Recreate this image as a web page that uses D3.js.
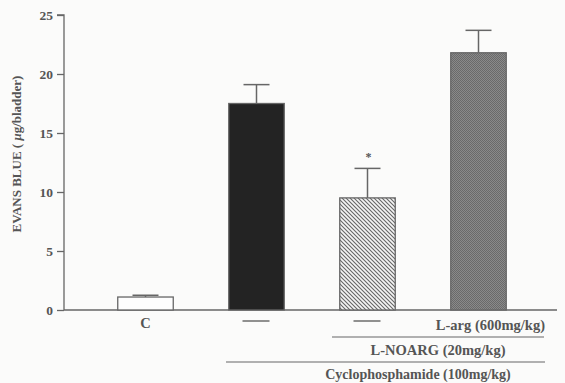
<!DOCTYPE html>
<html>
<head>
<meta charset="utf-8">
<script src="https://cdn.jsdelivr.net/npm/d3@7"></script>
<style>
  body { margin: 0; background: #fbfbfa; }
  svg { display: block; }
  text { font-family: "Liberation Serif", "DejaVu Serif", serif; font-weight: bold; fill: #555; }
</style>
</head>
<body>
<div id="viz"></div>
<script>
var groups = ["C", "CYP", "CYP+NOARG", "CYP+NOARG+ARG"],
    means = [1.1, 17.5, 9.5, 21.8],
    errs = [0.15, 1.6, 2.5, 1.9],
    yTicks = [0, 5, 10, 15, 20, 25],
    signif = [false, false, true, false];

var W = 565, H = 383,
    ink = "#666";

var svg = d3.select("#viz").append("svg")
    .attr("width", W)
    .attr("height", H);

var defs = svg.append("defs");

// diagonal hatch for the L-NOARG bar
var hatch = defs.append("pattern")
    .attr("id", "hatch")
    .attr("patternUnits", "userSpaceOnUse")
    .attr("width", 4).attr("height", 4);
hatch.append("rect").attr("width", 4).attr("height", 4).attr("fill", "#f4f4f4");
hatch.append("path")
    .attr("d", "M-1,-1 L5,5 M-1,3 L1,5 M3,-1 L5,1")
    .attr("stroke", "#666").attr("stroke-width", 1.1);

// fine dotted grey for the L-arg bar
var dots = defs.append("pattern")
    .attr("id", "dots")
    .attr("patternUnits", "userSpaceOnUse")
    .attr("width", 2).attr("height", 2);
dots.append("rect").attr("width", 2).attr("height", 2).attr("fill", "#8a8a8a");
dots.append("rect").attr("width", 1).attr("height", 1).attr("fill", "#6a6a6a");
dots.append("rect").attr("x", 1).attr("y", 1).attr("width", 1).attr("height", 1).attr("fill", "#6a6a6a");

var fills = ["#fdfdfd", "#232323", "url(#hatch)", "url(#dots)"];

var x = d3.scaleBand()
    .domain(groups)
    .range([90, 534])
    .paddingInner(0.5)
    .paddingOuter(0.25);

var y = d3.scaleLinear()
    .domain([0, 25])
    .range([310, 15]);

// y axis
var yAxis = svg.append("g")
    .attr("transform", "translate(64,0)")
    .call(d3.axisLeft(y).tickValues(yTicks).tickSize(7).tickPadding(4));
yAxis.select(".domain").attr("stroke", ink).attr("stroke-width", 1.3).attr("d", "M-7,15H0V310");
yAxis.selectAll(".tick line").attr("stroke", ink).attr("stroke-width", 1.3);
yAxis.selectAll(".tick text")
    .style("font-family", "Liberation Serif, serif")
    .style("font-weight", "bold")
    .style("font-size", "13.5px")
    .attr("fill", "#555");

// baseline
svg.append("line")
    .attr("x1", 64).attr("x2", 557)
    .attr("y1", y(0)).attr("y2", y(0))
    .attr("stroke", ink).attr("stroke-width", 1.3);

// y title
svg.append("text")
    .attr("transform", "translate(21," + 154 + ") rotate(-90)")
    .attr("text-anchor", "middle")
    .style("font-size", "13px")
    .call(function(t) {
        t.append("tspan").text("EVANS BLUE  (  ");
        t.append("tspan").style("font-style", "italic").text("μ");
        t.append("tspan").text("g/bladder)");
    });

// bars
svg.selectAll("rect.bar")
    .data(groups)
    .enter().append("rect")
    .attr("class", "bar")
    .attr("x", function(d) { return x(d); })
    .attr("width", x.bandwidth())
    .attr("y", function(d, i) { return y(means[i]); })
    .attr("height", function(d, i) { return y(0) - y(means[i]); })
    .attr("fill", function(d, i) { return fills[i]; })
    .attr("stroke", ink)
    .attr("stroke-width", 1.3);

// error bars
var eb = svg.selectAll("g.err")
    .data(groups)
    .enter().append("g")
    .attr("class", "err")
    .attr("stroke", ink)
    .attr("stroke-width", 1.5);
eb.append("line")
    .attr("x1", function(d) { return x(d) + x.bandwidth() / 2; })
    .attr("x2", function(d) { return x(d) + x.bandwidth() / 2; })
    .attr("y1", function(d, i) { return y(means[i]); })
    .attr("y2", function(d, i) { return y(means[i] + errs[i]); });
eb.append("line")
    .attr("x1", function(d) { return x(d) + x.bandwidth() / 2 - 13; })
    .attr("x2", function(d) { return x(d) + x.bandwidth() / 2 + 13; })
    .attr("y1", function(d, i) { return y(means[i] + errs[i]); })
    .attr("y2", function(d, i) { return y(means[i] + errs[i]); });

// asterisk
svg.selectAll("text.star")
    .data(groups.filter(function(d, i) { return signif[i]; }))
    .enter().append("text")
    .attr("class", "star")
    .attr("x", function(d) { return x(d) + x.bandwidth() / 2 + 1; })
    .attr("y", function(d) { var i = groups.indexOf(d); return y(means[i] + errs[i]) - 7; })
    .attr("text-anchor", "middle")
    .style("font-size", "12px")
    .text("*");

// treatment labels under the axis
var cx = function(i) { return x(groups[i]) + x.bandwidth() / 2; };

svg.append("text")
    .attr("x", cx(0)).attr("y", 328)
    .attr("text-anchor", "middle")
    .style("font-size", "14.5px")
    .text("C");

[1, 2].forEach(function(i) {
    svg.append("line")
        .attr("x1", cx(i) - 14).attr("x2", cx(i) + 13)
        .attr("y1", 321).attr("y2", 321)
        .attr("stroke", "#555").attr("stroke-width", 1.3);
});

svg.append("text")
    .attr("x", 545).attr("y", 330)
    .attr("text-anchor", "end")
    .style("font-size", "14.5px")
    .text("L-arg (600mg/kg)");

svg.append("line")
    .attr("x1", 332).attr("x2", 544)
    .attr("y1", 337).attr("y2", 337)
    .attr("stroke", ink).attr("stroke-width", 1.2);

svg.append("text")
    .attr("x", 438).attr("y", 355)
    .attr("text-anchor", "middle")
    .style("font-size", "14.5px")
    .text("L-NOARG (20mg/kg)");

svg.append("line")
    .attr("x1", 226).attr("x2", 545)
    .attr("y1", 362).attr("y2", 362)
    .attr("stroke", ink).attr("stroke-width", 1.2);

svg.append("text")
    .attr("x", 418).attr("y", 379)
    .attr("text-anchor", "middle")
    .style("font-size", "14px")
    .text("Cyclophosphamide (100mg/kg)");
</script>
</body>
</html>
